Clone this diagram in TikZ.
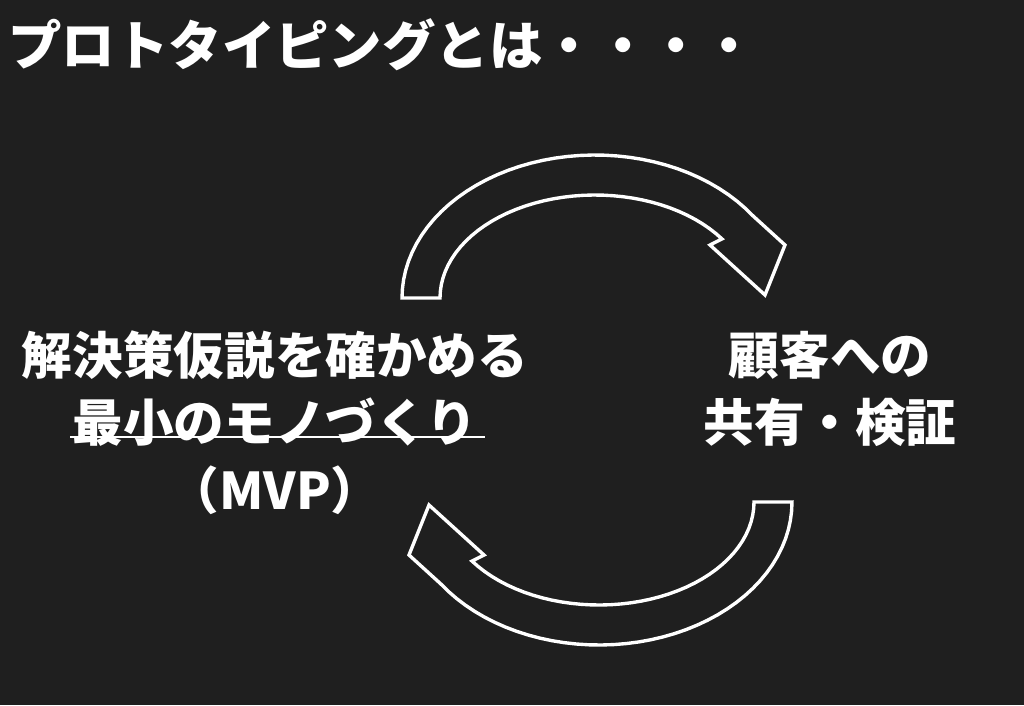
\documentclass[tikz,border=0pt]{standalone}
\usepackage{fontspec}
\usetikzlibrary{positioning}
\newfontfamily\jp{Noto Sans CJK JP}
\definecolor{bgdark}{RGB}{31,31,31}
\tikzset{
  lbl/.style={text=white,font=\jp\bfseries\fontsize{36}{44}\selectfont,inner sep=0pt,align=center},
  cyc/.style={draw=white,line width=2.4pt,line join=miter}
}
\begin{document}
\begin{tikzpicture}[x=0.025cm,y=-0.025cm]
\fill[bgdark] (0,0) rectangle (1024,705);
\useasboundingbox (0,0) rectangle (1024,705);

\node[lbl,anchor=west,font=\jp\bfseries\fontsize{38}{44}\selectfont] (title) at (8,45) {プロトタイピングとは・・・・};

\node[lbl] (mvp1) at (275,355) {解決策仮説を確かめる};
\node[lbl] (mvp2) [below=13pt of mvp1] {最小のモノづくり};
\node[lbl] (mvp3) [below=13pt of mvp2] {（MVP）};
\draw[white,line width=2pt] (70,437) -- (485,437);

\node[lbl] (cust1) at (830,355) {顧客への};
\node[lbl] (cust2) [below=13pt of cust1] {共有・検証};

% upper arrow
\draw[cyc] plot[domain=180:35,samples=40,variable=\t] ({595+193*cos(\t)},{298-143*sin(\t)})
  -- (785,245) -- (765,295) -- (710,245)
  -- plot[domain=35:180,samples=40,variable=\t] ({595+155*cos(\t)},{298-103*sin(\t)}) -- cycle;
% lower arrow
\begin{scope}[rotate around={180:(597,400)}]
\draw[cyc] plot[domain=180:35,samples=40,variable=\t] ({595+193*cos(\t)},{298-143*sin(\t)})
  -- (785,245) -- (765,295) -- (710,245)
  -- plot[domain=35:180,samples=40,variable=\t] ({595+155*cos(\t)},{298-103*sin(\t)}) -- cycle;
\end{scope}
\end{tikzpicture}
\end{document}
